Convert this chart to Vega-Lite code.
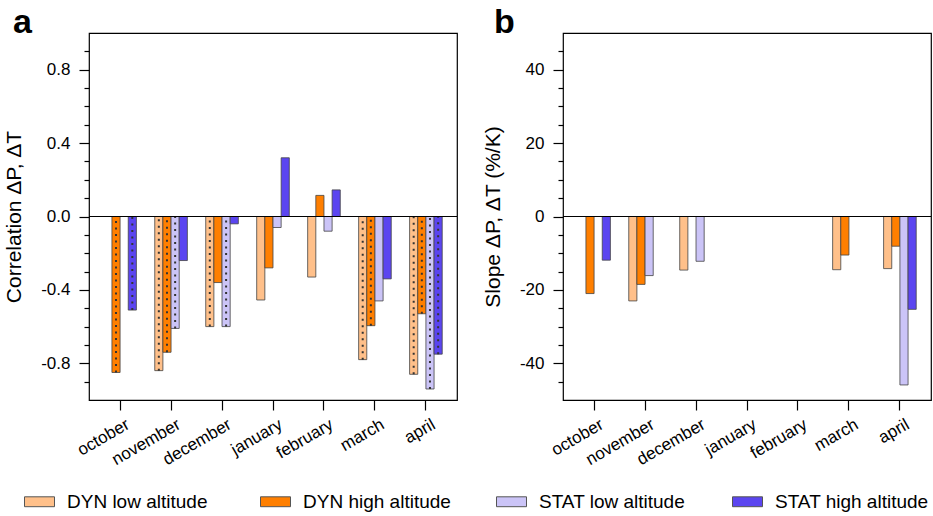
{
  "$schema": "https://vega.github.io/schema/vega-lite/v6.json",
  "padding": {"left": 3, "top": 5, "right": 0, "bottom": 0},
  "background": "white",
  "datasets": {
    "corr": [
      {"month": "october", "series": "DYN high altitude", "value": -0.85, "sig": true},
      {"month": "october", "series": "STAT high altitude", "value": -0.51, "sig": true},
      {"month": "november", "series": "DYN low altitude", "value": -0.84, "sig": true},
      {"month": "november", "series": "DYN high altitude", "value": -0.74, "sig": true},
      {"month": "november", "series": "STAT low altitude", "value": -0.61, "sig": true},
      {"month": "november", "series": "STAT high altitude", "value": -0.24, "sig": false},
      {"month": "december", "series": "DYN low altitude", "value": -0.6, "sig": true},
      {"month": "december", "series": "DYN high altitude", "value": -0.36, "sig": false},
      {"month": "december", "series": "STAT low altitude", "value": -0.6, "sig": true},
      {"month": "december", "series": "STAT high altitude", "value": -0.04, "sig": false},
      {"month": "january", "series": "DYN low altitude", "value": -0.455, "sig": false},
      {"month": "january", "series": "DYN high altitude", "value": -0.28, "sig": false},
      {"month": "january", "series": "STAT low altitude", "value": -0.06, "sig": false},
      {"month": "january", "series": "STAT high altitude", "value": 0.32, "sig": false},
      {"month": "february", "series": "DYN low altitude", "value": -0.33, "sig": false},
      {"month": "february", "series": "DYN high altitude", "value": 0.115, "sig": false},
      {"month": "february", "series": "STAT low altitude", "value": -0.08, "sig": false},
      {"month": "february", "series": "STAT high altitude", "value": 0.145, "sig": false},
      {"month": "march", "series": "DYN low altitude", "value": -0.78, "sig": true},
      {"month": "march", "series": "DYN high altitude", "value": -0.595, "sig": true},
      {"month": "march", "series": "STAT low altitude", "value": -0.46, "sig": false},
      {"month": "march", "series": "STAT high altitude", "value": -0.34, "sig": false},
      {"month": "april", "series": "DYN low altitude", "value": -0.86, "sig": true},
      {"month": "april", "series": "DYN high altitude", "value": -0.53, "sig": true},
      {"month": "april", "series": "STAT low altitude", "value": -0.94, "sig": true},
      {"month": "april", "series": "STAT high altitude", "value": -0.75, "sig": true}
    ],
    "slope": [
      {"month": "october", "series": "DYN high altitude", "value": -21.0},
      {"month": "october", "series": "STAT high altitude", "value": -11.9},
      {"month": "november", "series": "DYN low altitude", "value": -23.0},
      {"month": "november", "series": "DYN high altitude", "value": -18.5},
      {"month": "november", "series": "STAT low altitude", "value": -16.1},
      {"month": "december", "series": "DYN low altitude", "value": -14.6},
      {"month": "december", "series": "STAT low altitude", "value": -12.2},
      {"month": "march", "series": "DYN low altitude", "value": -14.5},
      {"month": "march", "series": "DYN high altitude", "value": -10.5},
      {"month": "april", "series": "DYN low altitude", "value": -14.2},
      {"month": "april", "series": "DYN high altitude", "value": -8.1},
      {"month": "april", "series": "STAT low altitude", "value": -45.9},
      {"month": "april", "series": "STAT high altitude", "value": -25.3}
    ]
  },
  "spacing": 22,
  "resolve": {"scale": {"color": "shared", "x": "independent", "y": "independent"}, "legend": {"color": "shared"}},
  "hconcat": [
    {
      "width": 368,
      "height": 367,
      "title": {"text": "a", "anchor": "start", "frame": "group", "dx": -76, "offset": -34, "baseline": "alphabetic", "fontSize": 34, "fontWeight": "bold", "font": "Liberation Sans", "color": "black"},
      "data": {"name": "corr"},
      "resolve": {"axis": {"y": "independent"}},
      "layer": [
        {
          "mark": {"type": "bar", "stroke": "#444", "strokeWidth": 0.8},
          "encoding": {
            "x": {"field": "month", "type": "nominal", "sort": ["october", "november", "december", "january", "february", "march", "april"],
              "scale": {"domain": ["october", "november", "december", "january", "february", "march", "april"], "paddingInner": 0.36, "paddingOuter": 0.29},
              "axis": {"title": null, "labelAngle": -30, "labelAlign": "right", "labelBaseline": "top", "tickSize": 10, "labelPadding": 6, "labelOffset": 4, "labelFontSize": 17},
              "title": null},
            "xOffset": {"field": "series", "type": "nominal", "scale": {"domain": ["DYN low altitude", "DYN high altitude", "STAT low altitude", "STAT high altitude"], "paddingInner": 0, "paddingOuter": 0}},
            "y": {"field": "value", "type": "quantitative", "scale": {"domain": [-1, 1], "nice": false, "zero": false},
              "axis": {"title": "Correlation ΔP, ΔT", "orient": "left", "values": [-0.8, -0.4, 0, 0.4, 0.8], "format": ".1f",
                "labelOverlap": false, "tickSize": 10, "labelPadding": 9, "titlePadding": 16}},
            "color": {"field": "series", "type": "nominal",
              "scale": {"domain": ["DYN low altitude", "DYN high altitude", "STAT low altitude", "STAT high altitude"], "range": ["#FFC08A", "#FF7F00", "#CBC4F7", "#5B45F0"]},
              "legend": {"orient": "none", "legendX": -65, "legendY": 453, "direction": "horizontal", "columns": 4, "gridAlign": "all", "columnPadding": 37, "title": null, "padding": 0,
                "symbolType": "M-1,-0.33H1V0.33H-1Z", "symbolSize": 900, "symbolStrokeColor": "#555", "symbolStrokeWidth": 1, "symbolOpacity": 1,
                "labelFontSize": 19, "labelOffset": 12, "labelLimit": 300, "labelColor": "black", "labelFont": "Liberation Sans"}}
          }
        },
        {
          "transform": [{"filter": "datum.sig"}],
          "mark": {"type": "rule", "strokeDash": [2, 4.5], "strokeWidth": 2, "color": "#333"},
          "encoding": {
            "x": {"field": "month", "type": "nominal", "sort": ["october", "november", "december", "january", "february", "march", "april"]},
            "xOffset": {"field": "series", "type": "nominal"},
            "y": {"field": "value", "type": "quantitative", "axis": null},
            "y2": {"datum": 0}
          }
        },
        {
          "mark": {"type": "rule", "color": "black", "strokeWidth": 1},
          "encoding": {"y": {"datum": 0, "type": "quantitative",
            "axis": {"orient": "left", "title": null, "labels": false, "tickSize": 5, "values": [-0.9, -0.7, -0.6, -0.5, -0.3, -0.2, -0.1, 0.1, 0.2, 0.3, 0.5, 0.6, 0.7, 0.9]}}}
        }
      ]
    },
    {
      "width": 368,
      "height": 367,
      "title": {"text": "b", "anchor": "start", "frame": "group", "dx": -69, "offset": -34, "baseline": "alphabetic", "fontSize": 34, "fontWeight": "bold", "font": "Liberation Sans", "color": "black"},
      "data": {"name": "slope"},
      "resolve": {"axis": {"y": "independent"}},
      "layer": [
        {
          "mark": {"type": "bar", "stroke": "#444", "strokeWidth": 0.8},
          "encoding": {
            "x": {"field": "month", "type": "nominal", "sort": ["october", "november", "december", "january", "february", "march", "april"],
              "scale": {"domain": ["october", "november", "december", "january", "february", "march", "april"], "paddingInner": 0.36, "paddingOuter": 0.29},
              "axis": {"title": null, "labelAngle": -30, "labelAlign": "right", "labelBaseline": "top", "tickSize": 10, "labelPadding": 6, "labelOffset": 4, "labelFontSize": 17},
              "title": null},
            "xOffset": {"field": "series", "type": "nominal", "scale": {"domain": ["DYN low altitude", "DYN high altitude", "STAT low altitude", "STAT high altitude"], "paddingInner": 0, "paddingOuter": 0}},
            "y": {"field": "value", "type": "quantitative", "scale": {"domain": [-50, 50], "nice": false, "zero": false},
              "axis": {"title": "Slope ΔP, ΔT (%/K)", "orient": "left", "values": [-40, -20, 0, 20, 40], "format": "d",
                "labelOverlap": false, "tickSize": 10, "labelPadding": 9, "titlePadding": 16}},
            "color": {"field": "series", "type": "nominal",
              "scale": {"domain": ["DYN low altitude", "DYN high altitude", "STAT low altitude", "STAT high altitude"], "range": ["#FFC08A", "#FF7F00", "#CBC4F7", "#5B45F0"]},
              "legend": {"orient": "none", "legendX": -65, "legendY": 453, "direction": "horizontal", "columns": 4, "gridAlign": "all", "columnPadding": 37, "title": null, "padding": 0,
                "symbolType": "M-1,-0.33H1V0.33H-1Z", "symbolSize": 900, "symbolStrokeColor": "#555", "symbolStrokeWidth": 1, "symbolOpacity": 1,
                "labelFontSize": 19, "labelOffset": 12, "labelLimit": 300, "labelColor": "black", "labelFont": "Liberation Sans"}}
          }
        },
        {
          "mark": {"type": "rule", "color": "black", "strokeWidth": 1},
          "encoding": {"y": {"datum": 0, "type": "quantitative",
            "axis": {"orient": "left", "title": null, "labels": false, "tickSize": 5, "values": [-45, -35, -30, -25, -15, -10, -5, 5, 10, 15, 25, 30, 35, 45]}}}
        }
      ]
    }
  ],
  "config": {
    "font": "Liberation Sans",
    "locale": {"number": {"decimal": ".", "thousands": ",", "grouping": [3], "currency": ["$", ""], "minus": "-"}},
    "view": {"stroke": "black", "strokeWidth": 1.2},
    "axis": {"domain": false, "grid": false, "tickColor": "black", "tickWidth": 1.2, "labelColor": "black", "labelFont": "Liberation Sans", "labelFontSize": 17, "titleFont": "Liberation Sans", "titleFontSize": 21, "titleFontWeight": "normal", "titleColor": "black"}
  }
}
